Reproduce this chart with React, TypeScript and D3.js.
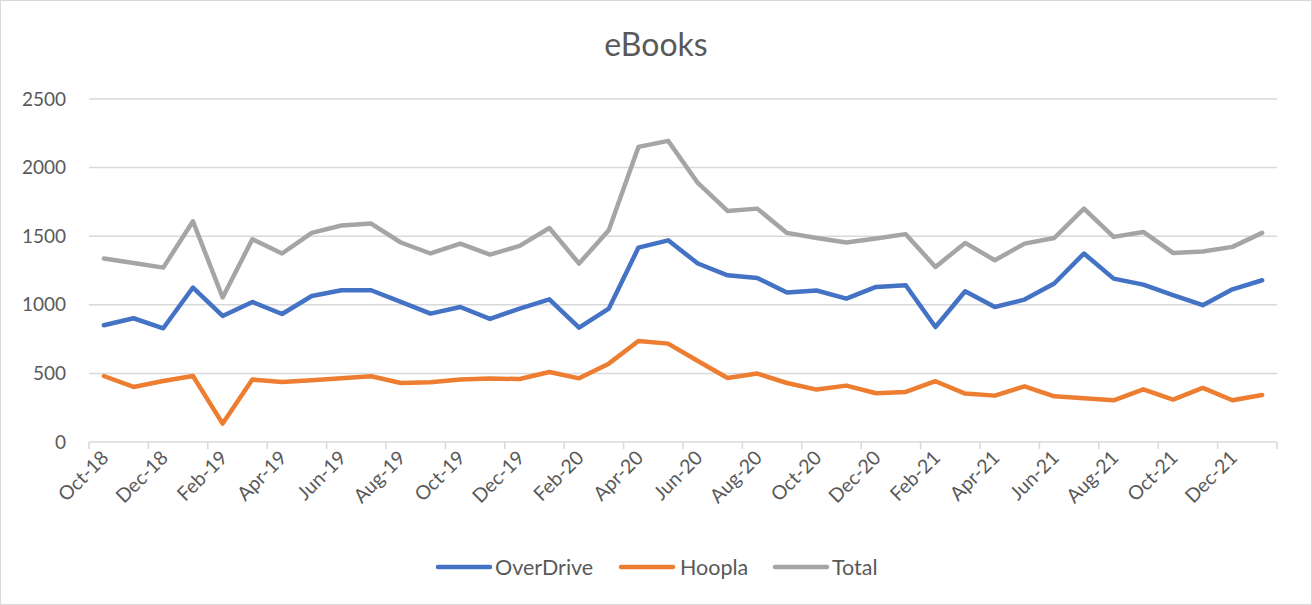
import * as d3 from "d3";
import React from "react";

const months = [
  "Oct-18", "Nov-18", "Dec-18", "Jan-19", "Feb-19", "Mar-19", "Apr-19", "May-19", "Jun-19", "Jul-19",
  "Aug-19", "Sep-19", "Oct-19", "Nov-19", "Dec-19", "Jan-20", "Feb-20", "Mar-20", "Apr-20", "May-20",
  "Jun-20", "Jul-20", "Aug-20", "Sep-20", "Oct-20", "Nov-20", "Dec-20", "Jan-21", "Feb-21", "Mar-21",
  "Apr-21", "May-21", "Jun-21", "Jul-21", "Aug-21", "Sep-21", "Oct-21", "Nov-21", "Dec-21", "Jan-22",
];

const overDrive = [
  851, 902, 829, 1126, 919, 1021, 933, 1064, 1106, 1106,
  1021, 936, 984, 897, 972, 1040, 834, 972, 1417, 1470,
  1301, 1215, 1196, 1089, 1104, 1045, 1130, 1142, 838, 1099,
  984, 1038, 1155, 1374, 1191, 1147, 1070, 997, 1113, 1179,
];

const hoopla = [
  481, 401, 445, 481, 134, 455, 437, 450, 464, 479,
  430, 435, 455, 462, 459, 510, 464, 571, 736, 717,
  590, 467, 499, 430, 382, 411, 355, 365, 443, 353,
  338, 406, 333, 319, 304, 384, 309, 394, 304, 343,
];

const total = [
  1337, 1305, 1271, 1609, 1053, 1478, 1374, 1524, 1578, 1592,
  1454, 1374, 1446, 1366, 1429, 1560, 1301, 1543, 2151, 2195,
  1888, 1684, 1701, 1524, 1487, 1454, 1483, 1515, 1276, 1451,
  1325, 1446, 1487, 1701, 1495, 1531, 1378, 1388, 1422, 1524,
];

const yTicks = [0, 500, 1000, 1500, 2000, 2500];

const series = [
  { name: "OverDrive", values: overDrive, color: "#4472C4" },
  { name: "Hoopla", values: hoopla, color: "#ED7D31" },
  { name: "Total", values: total, color: "#A5A5A5" },
];

const W = 1312;
const H = 605;
const font = "Lato, 'Open Sans', sans-serif";
const textColor = "#595959";

export default function App() {
  const x = d3.scaleBand<string>().domain(months).range([89, 1277]);
  const y = d3.scaleLinear().domain([0, 2500]).range([442, 99]);
  const cx = (m: string) => (x(m) as number) + x.bandwidth() / 2;

  const line = d3
    .line<number>()
    .x((_, i) => cx(months[i]))
    .y((d) => y(d));

  const tickXs = months.filter((_, i) => i % 2 === 0).map((m) => x(m) as number);
  tickXs.push(x.range()[1]);

  const legendItems = [
    { x0: 438, tx: 495 },
    { x0: 621, tx: 680 },
    { x0: 775, tx: 832 },
  ];

  return (
    <div>
      <style>{`body{margin:0}`}</style>
      <svg width={W} height={H} style={{ display: "block", fontFamily: font }}>
        <rect x={0.5} y={0.5} width={W - 1} height={H - 1} fill="#fff" stroke="#d9d9d9" />
        <text x={656} y={56} textAnchor="middle" fontSize={32} fill={textColor}>
          eBooks
        </text>

        {yTicks.map((t) => (
          <g key={t}>
            {t > 0 && (
              <line x1={89} x2={1277} y1={y(t)} y2={y(t)} stroke="#d9d9d9" strokeWidth={1.5} />
            )}
            <text x={66} y={y(t)} dy="0.35em" textAnchor="end" fontSize={19} fill={textColor}>
              {t}
            </text>
          </g>
        ))}

        <line x1={89} x2={1277} y1={y(0)} y2={y(0)} stroke="#d9d9d9" strokeWidth={1.5} />
        {tickXs.map((tx, i) => (
          <line key={i} x1={tx} x2={tx} y1={y(0)} y2={y(0) + 7} stroke="#d9d9d9" strokeWidth={1.5} />
        ))}

        {months.map((m, i) =>
          i % 2 === 0 ? (
            <text
              key={m}
              transform={`translate(${cx(m) + 6},${459}) rotate(-45)`}
              textAnchor="end"
              fontSize={19.5}
              fill={textColor}
            >
              {m}
            </text>
          ) : null
        )}

        {series.map((s) => (
          <path
            key={s.name}
            d={line(s.values) ?? ""}
            fill="none"
            stroke={s.color}
            strokeWidth={4.5}
            strokeLinejoin="round"
            strokeLinecap="round"
          />
        ))}

        {series.map((s, i) => (
          <g key={s.name}>
            <line
              x1={legendItems[i].x0}
              x2={legendItems[i].x0 + 52}
              y1={567}
              y2={567}
              stroke={s.color}
              strokeWidth={4.5}
              strokeLinecap="round"
            />
            <text x={legendItems[i].tx} y={567} dy="0.35em" fontSize={21.5} fill={textColor}>
              {s.name}
            </text>
          </g>
        ))}
      </svg>
    </div>
  );
}
